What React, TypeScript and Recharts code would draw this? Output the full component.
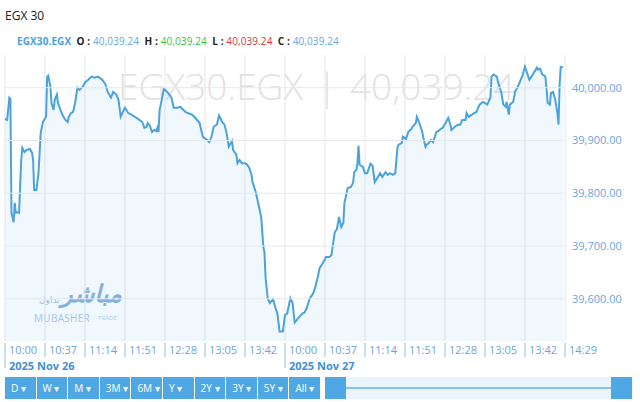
import React from 'react';
import { Area, AreaChart, CartesianGrid, ReferenceLine, XAxis, YAxis } from 'recharts';

// minutes from the session open (Nov 26 open = 0, Nov 27 open = 259)
const minutes = [
  0, 2, 4, 5, 6, 8, 9, 10, 12, 13, 15, 16, 18, 20, 23, 25, 26, 27, 29, 31,
  33, 35, 38, 39, 40, 42, 43, 45, 46, 48, 49, 52, 54, 56, 58, 59, 61, 63, 65, 67,
  69, 72, 74, 77, 80, 83, 86, 90, 93, 95, 98, 100, 103, 105, 107, 109, 111, 114, 117, 120,
  123, 127, 129, 131, 132, 134, 136, 138, 140, 141, 142, 143, 145, 147, 150, 152, 154, 156, 160, 162,
  164, 167, 169, 173, 176, 180, 183, 187, 189, 191, 193, 196, 198, 201, 203, 205, 207, 210, 211, 214,
  215, 217, 219, 222, 224, 226, 228, 229, 232, 234, 237, 239, 240, 241, 243, 245, 248, 250, 252, 253,
  254, 257, 259, 261, 264, 266, 268, 271, 275, 277, 279, 282, 285, 287, 289, 291, 294, 297, 300, 302,
  303, 305, 307, 309, 311, 313, 314, 316, 317, 320, 322, 323, 325, 326, 327, 328, 331, 333, 335, 338,
  340, 342, 345, 347, 349, 352, 354, 356, 359, 361, 363, 364, 367, 368, 371, 373, 376, 377, 380, 381,
  383, 386, 387, 389, 390, 392, 394, 396, 399, 401, 403, 405, 408, 410, 412, 413, 416, 419, 421, 423,
  426, 427, 429, 432, 434, 436, 439, 442, 444, 446, 449, 450, 452, 455, 456, 459, 461, 463, 464, 466,
  467, 470, 471, 472, 474, 477, 479, 481, 483, 485, 487, 489, 492, 493, 495, 497, 499, 500, 502, 504,
  505, 507, 509, 511, 512, 513, 514, 516,
];

const closes = [
  39941, 39939, 39981, 39979, 39763, 39745, 39782, 39763, 39764, 39763, 39863, 39886, 39878, 39882, 39884, 39877, 39863, 39806, 39806, 39838,
  39914, 39935, 39945, 40021, 40023, 40002, 39971, 39958, 39977, 39987, 39971, 39954, 39945, 39939, 39935, 39945, 39952, 39954, 39973, 40000,
  39996, 40002, 40010, 40015, 40021, 40019, 40021, 40015, 40006, 39992, 39981, 39992, 39987, 39977, 39945, 39954, 39962, 39952, 39949, 39945,
  39941, 39935, 39924, 39926, 39933, 39928, 39916, 39920, 39918, 39924, 39916, 39958, 39977, 39998, 39992, 39987, 39981, 39962, 39962, 39964,
  39960, 39954, 39952, 39949, 39943, 39933, 39907, 39901, 39897, 39907, 39926, 39930, 39947, 39935, 39930, 39914, 39888, 39899, 39882, 39873,
  39857, 39863, 39857, 39857, 39854, 39848, 39835, 39821, 39802, 39783, 39755, 39698, 39688, 39641, 39601, 39592, 39599, 39584, 39572, 39555,
  39538, 39538, 39569, 39572, 39601, 39592, 39555, 39563, 39572, 39574, 39582, 39601, 39610, 39622, 39639, 39658, 39668, 39679, 39679, 39683,
  39698, 39726, 39732, 39755, 39736, 39744, 39782, 39800, 39810, 39812, 39820, 39840, 39844, 39857, 39890, 39854, 39850, 39838, 39838, 39856,
  39852, 39821, 39831, 39838, 39831, 39840, 39835, 39838, 39835, 39838, 39886, 39892, 39895, 39907, 39903, 39916, 39922, 39926, 39933, 39945,
  39935, 39916, 39905, 39888, 39892, 39895, 39901, 39897, 39916, 39918, 39922, 39924, 39935, 39943, 39930, 39920, 39926, 39930, 39930, 39939,
  39939, 39952, 39945, 39949, 39952, 39954, 39968, 39973, 39971, 39968, 39981, 40021, 40025, 40021, 40011, 39992, 39968, 39964, 39973, 39949,
  39968, 39973, 39983, 39994, 40000, 40015, 40025, 40040, 40028, 40015, 40021, 40028, 40038, 40034, 40036, 40025, 40023, 40019, 39971, 39968,
  39990, 39992, 39977, 39952, 39930, 40006, 40039.24, 40039.24,
];

const tickMinutes = [0, 37, 74, 111, 148, 185, 222, 259, 296, 333, 370, 407, 444, 481, 518];
const tickLabels = [
  '10:00', '10:37', '11:14', '11:51', '12:28', '13:05', '13:42',
  '10:00', '10:37', '11:14', '11:51', '12:28', '13:05', '13:42', '14:29',
];
const sessionDates = ['2025 Nov 26', '2025 Nov 27'];
const sessionStarts = [0, 259];
const priceTicks = [39600, 39700, 39800, 39900, 40000];
const ranges = ['D', 'W', 'M', '3M', '6M', 'Y', '2Y', '3Y', '5Y', 'All'];

const LINE = '#4ba3dd';
const LABEL = '#6aa6dc';
const GRID = '#e4e9ef';
const FONT = '"Open Sans", "Noto Sans", sans-serif';

const data = minutes.map((t, i) => ({ t, close: closes[i] }));

const fmtPrice = (v: number) =>
  v.toLocaleString('en-US', { minimumFractionDigits: 2, maximumFractionDigits: 2 });

const TimeTick = (props: any) => {
  const { x, y, payload } = props;
  const idx = tickMinutes.indexOf(payload.value);
  const day = sessionStarts.indexOf(payload.value);
  return (
    <g>
      <line x1={x} x2={x} y1={y + 2} y2={day >= 0 ? y + 27 : y + 16} stroke="#8cc0e8" strokeWidth={1} />
      <text x={x + 4} y={y + 13} fill={LABEL} fontSize={11} fontFamily={FONT}>
        {tickLabels[idx]}
      </text>
      {day >= 0 && (
        <text x={x + 4} y={y + 29} fill="#3f8fd6" fontSize={11} fontWeight={700} fontFamily={FONT}>
          {sessionDates[day]}
        </text>
      )}
    </g>
  );
};

const Legend = () => (
  <div style={{ position: 'absolute', left: 17, top: 34, fontSize: 10, fontFamily: FONT, whiteSpace: 'pre', letterSpacing: 0.1 }}>
    <span style={{ color: '#4a9fe0', fontWeight: 700 }}>EGX30.EGX</span>
    <b style={{ color: '#222' }}>{'  O : '}</b>
    <span style={{ color: '#6aa6dc' }}>40,039.24</span>
    <b style={{ color: '#222' }}>{'  H : '}</b>
    <span style={{ color: '#3fbf3f' }}>40,039.24</span>
    <b style={{ color: '#222' }}>{'  L : '}</b>
    <span style={{ color: '#d9363e' }}>40,039.24</span>
    <b style={{ color: '#222' }}>{'  C : '}</b>
    <span style={{ color: '#6aa6dc' }}>40,039.24</span>
  </div>
);

const wm: React.CSSProperties = {
  position: 'absolute', top: 64, fontSize: 37, fontWeight: 300, color: '#e2e2e2',
  fontFamily: FONT, whiteSpace: 'pre', lineHeight: 1.2,
};

const App = () => (
  <div style={{ position: 'absolute', left: 0, top: 0, width: 640, height: 402, background: '#fff', overflow: 'hidden' }}>
    <div style={{ position: 'absolute', left: 5, top: 7, fontSize: 12, color: '#222', fontFamily: FONT }}>EGX 30</div>
    <Legend />

    {/* watermark */}
    <div style={{ ...wm, left: 118 }}>EGX30.EGX</div>
    <div style={{ ...wm, left: 317 }}>|</div>
    <div style={{ ...wm, left: 350 }}>40,039.24</div>

    {/* mubasher logo */}
    <div style={{ position: 'absolute', left: 34, top: 281, width: 90, height: 45, opacity: 0.75, fontFamily: '"DejaVu Sans", sans-serif' }}>
      <span style={{ position: 'absolute', left: 27, top: -1, fontSize: 24, fontWeight: 700, fontStyle: 'italic', color: '#5d9bd6' }}>مباشر</span>
      <span style={{ position: 'absolute', left: 5, top: 14, fontSize: 9, color: '#7fb2e2' }}>تداول</span>
      <span style={{ position: 'absolute', left: 0, top: 30, fontSize: 10, color: '#8db7df', fontFamily: FONT, letterSpacing: 0.3 }}>MUBASHER</span>
      <span style={{ position: 'absolute', left: 64, top: 33, fontSize: 6, color: '#a5c6e6', fontFamily: FONT }}>TRADE</span>
    </div>

    <div style={{ position: 'absolute', left: 0, top: 0 }}>
      <AreaChart width={640} height={372} data={data} margin={{ top: 55, right: 0, bottom: 0, left: 5 }}>
        <CartesianGrid stroke={GRID} horizontal={false} />
        {priceTicks.map((v) => (
          <ReferenceLine key={v} y={v} stroke={GRID} />
        ))}
        <XAxis
          dataKey="t"
          type="number"
          domain={[0, 518]}
          ticks={tickMinutes}
          interval={0}
          height={31}
          axisLine={false}
          tickLine={false}
          tickSize={0}
          tickMargin={0}
          tick={<TimeTick />}
        />
        <YAxis
          orientation="right"
          domain={[39520, 40062]}
          ticks={priceTicks}
          width={75}
          axisLine={false}
          tickLine={false}
          tickSize={0}
          tickMargin={7}
          tick={{ fill: LABEL, fontSize: 11, fontFamily: FONT }}
          tickFormatter={fmtPrice}
        />
        <Area
          type="linear"
          dataKey="close"
          stroke={LINE}
          strokeWidth={2}
          fill="#5aaae6"
          fillOpacity={0.09}
          isAnimationActive={false}
          dot={false}
        />
      </AreaChart>
    </div>

    {/* range buttons */}
    {ranges.map((r, i) => (
      <div
        key={r}
        style={{
          position: 'absolute', left: 5 + i * 31.6, top: 377, width: 30.6, height: 22, background: '#4fa7e4',
          color: '#fff', fontSize: 10, fontFamily: FONT, lineHeight: '22px', paddingLeft: 6, boxSizing: 'border-box',
        }}
      >
        {r} ▾
      </div>
    ))}

    {/* navigator */}
    <div style={{ position: 'absolute', left: 325, top: 377, width: 308, height: 22, background: '#e9f4fc' }} />
    <div style={{ position: 'absolute', left: 345, top: 387, width: 266, height: 2, background: '#86c2ea' }} />
    <div style={{ position: 'absolute', left: 325, top: 377, width: 21, height: 22, background: '#4fa7e4' }} />
    <div style={{ position: 'absolute', left: 611, top: 377, width: 21, height: 22, background: '#4fa7e4' }} />
  </div>
);

export default App;
